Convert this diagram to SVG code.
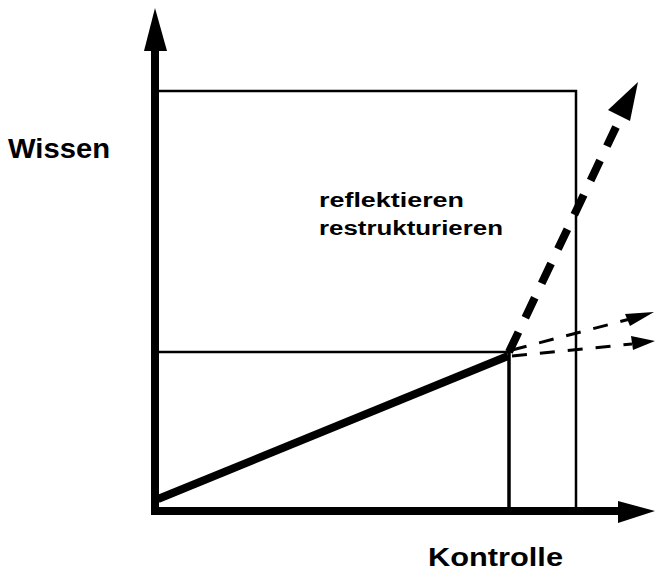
<svg xmlns="http://www.w3.org/2000/svg" width="656" height="573" viewBox="0 0 656 573">
<style>
.lbl{font-family:"Liberation Sans","DejaVu Sans",sans-serif;font-weight:bold;fill:#000}
.thin{stroke:#000;stroke-width:2.5;fill:none}
</style>
<rect width="656" height="573" fill="#fff"/>
<g id="frame">
<polyline class="thin" points="158,91 576,91 576,511"/>
<line class="thin" x1="158" y1="352" x2="510" y2="352"/>
<line x1="509" y1="352" x2="509" y2="511" stroke="#000" stroke-width="3.5"/>
</g>
<g id="connectors">
<line x1="155" y1="515" x2="155" y2="48" stroke="#000" stroke-width="8"/>
<polygon points="144,51 155,8 167,51" fill="#000"/>
<line x1="151" y1="511" x2="620" y2="511" stroke="#000" stroke-width="8"/>
<polygon points="618,501 655,511 618,523" fill="#000"/>
<line x1="158" y1="499" x2="508" y2="356" stroke="#000" stroke-width="8"/>
<line x1="509" y1="352" x2="616" y2="127" stroke="#000" stroke-width="8" stroke-dasharray="22 16"/>
<polygon points="638,82 630,121 608,110" fill="#000"/>
<line x1="512" y1="350" x2="630" y2="319" stroke="#000" stroke-width="3" stroke-dasharray="15 13"/>
<polygon points="654,312 630,326 625,314" fill="#000"/>
<line x1="512" y1="356" x2="632" y2="344" stroke="#000" stroke-width="3" stroke-dasharray="15 13"/>
<polygon points="655,341 633,350 631,336" fill="#000"/>
</g>
<g id="labels">
<text class="lbl" x="8" y="158" font-size="28" textLength="102" lengthAdjust="spacingAndGlyphs">Wissen</text>
<text class="lbl" x="319" y="207" font-size="20" textLength="145" lengthAdjust="spacingAndGlyphs">reflektieren</text>
<text class="lbl" x="319" y="235" font-size="20" textLength="184" lengthAdjust="spacingAndGlyphs">restrukturieren</text>
<text class="lbl" x="428" y="566" font-size="25" textLength="135" lengthAdjust="spacingAndGlyphs">Kontrolle</text>
</g>
</svg>
